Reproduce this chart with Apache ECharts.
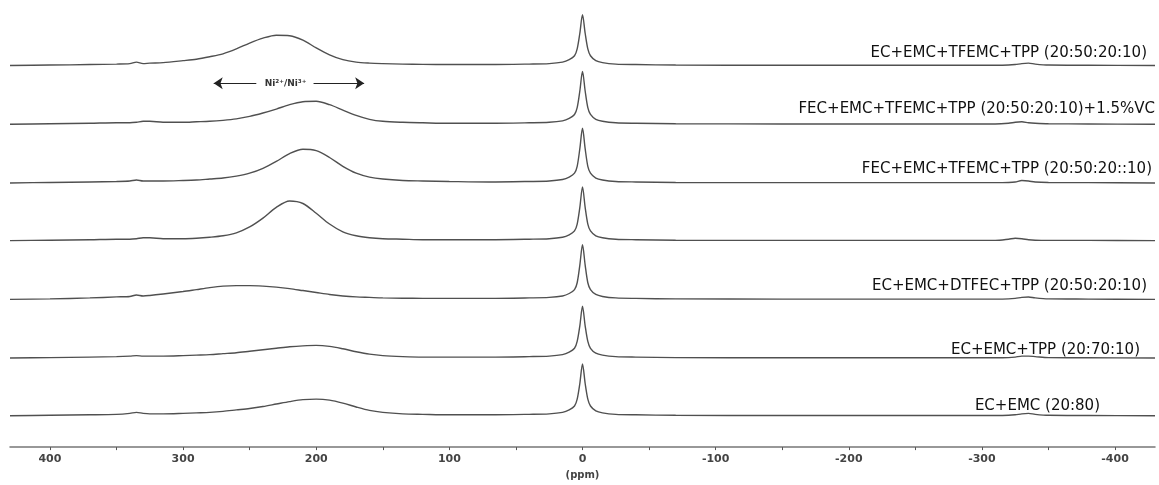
<!DOCTYPE html>
<html>
<head>
<meta charset="utf-8">
<script src="https://cdn.jsdelivr.net/npm/echarts@6/dist/echarts.min.js"></script>
<style>
  html, body { margin: 0; padding: 0; background: #fff; }
  #main { width: 1159px; height: 485px; }
</style>
</head>
<body>
<div id="main"></div>
<script>
// chemical shift grid (ppm), shared by all traces
const ppm = [430, 400, 370, 350, 340, 335, 330, 325, 315, 300,
  290, 280, 270, 260, 250, 240, 230, 220, 210, 200,
  190, 180, 170, 160, 150, 135, 120, 100, 70, 40,
  25, 15, 10, 6, 4, 2, 0, -2, -4, -6,
  -10, -15, -25, -40, -70, -150, -250, -310, -320, -325,
  -330, -335, -340, -350, -380, -430];

// sample names, top to bottom ('' = unlabeled trace)
const names = [
  'EC+EMC+TFEMC+TPP (20:50:20:10)',
  'FEC+EMC+TFEMC+TPP (20:50:20:10)+1.5%VC',
  'FEC+EMC+TFEMC+TPP (20:50:20::10)',
  '',
  'EC+EMC+DTFEC+TPP (20:50:20:10)',
  'EC+EMC+TPP (20:70:10)',
  'EC+EMC (20:80)'
];

// vertical stacking offset of each trace
const offsets = [390, 330, 270, 211, 151, 91, 32];

// intensities, one array per trace
const trace1 = [0, 0.5, 1, 1.5, 2, 3.5, 2, 2.5, 3, 5,
  6.5, 9, 12, 17, 23, 28, 31, 30.5, 26, 18,
  11, 6, 3.5, 2.5, 2, 1.5, 1.2, 1, 1, 1.5,
  2, 3.5, 6, 10, 17, 33, 52, 33, 17, 10,
  5, 3, 1.5, 1, 0.5, 0.3, 0.3, 0.3, 0.5, 1,
  2, 2.5, 1.5, 0.5, 0.3, 0];
const trace2 = [0, 0.5, 1, 1.5, 1.5, 2, 3, 3, 2, 2,
  2.5, 3, 4, 5.5, 8, 11.5, 15.5, 20, 23, 23.5,
  20, 14.5, 9, 5, 3, 2, 1.5, 1, 1, 1.5,
  2, 3.5, 6, 10, 17, 34, 54, 34, 17, 10,
  5, 3, 1.5, 1, 0.5, 0.3, 0.3, 0.3, 1, 2,
  2.5, 1.5, 1, 0.5, 0.3, 0];
const trace3 = [0, 0.5, 1, 1.5, 2, 3, 2, 2, 2, 2.5,
  3, 4, 5, 7, 10, 15, 22, 30, 34.5, 33,
  26, 17, 10, 6, 4, 2.5, 2, 1.5, 1, 1.5,
  2, 3.5, 6, 10, 17, 35, 56, 35, 17, 10,
  5, 3, 1.5, 1, 0.5, 0.3, 0.3, 0.3, 0.5, 1,
  2.5, 2, 1, 0.5, 0.3, 0];
const trace4 = [0, 0.5, 1, 1.5, 1.5, 2, 3, 3, 2, 2,
  2.5, 3.5, 5, 8, 14, 23, 34, 40.5, 38, 28,
  17, 9, 5, 3, 2, 1.5, 1, 1, 1, 1.5,
  2, 3.5, 6, 10, 17, 34, 55, 34, 17, 10,
  5, 3, 1.5, 1, 0.5, 0.3, 0.3, 0.3, 1.5, 2.5,
  2, 1, 0.5, 0.3, 0.3, 0];
const trace5 = [0, 0.5, 1.5, 2.5, 3, 4.5, 3.5, 4, 5.5, 8,
  10, 12, 13.5, 14, 14, 13.5, 12.5, 11, 9, 7,
  5, 3.5, 2.5, 2, 1.5, 1.2, 1, 1, 1, 1.5,
  2, 3.5, 6, 10, 17, 35, 56, 35, 17, 10,
  5, 3, 1.5, 1, 0.5, 0.3, 0.3, 0.3, 0.5, 1,
  2, 2.5, 1.5, 0.5, 0.3, 0];
const trace6 = [0, 0.5, 1, 1.5, 2, 2.5, 2, 2, 2, 2.5,
  3, 3.5, 4.5, 5.5, 7, 8.5, 10, 11.5, 12.5, 13,
  12, 9.5, 6.5, 4, 2.5, 1.5, 1, 1, 1, 1.5,
  2, 3.5, 6, 10, 17, 33, 53, 33, 17, 10,
  5, 3, 1.5, 1, 0.5, 0.3, 0.3, 0.3, 0.5, 1,
  2, 2, 1.5, 0.5, 0.3, 0];
const trace7 = [0, 0.5, 1, 1.5, 2.5, 3.5, 2.5, 2, 2, 2.5,
  3, 3.5, 4.5, 6, 7.5, 9.5, 12, 14.5, 16.5, 17,
  16, 13, 9, 5.5, 3.5, 2, 1.5, 1, 1, 1.5,
  2, 3.5, 6, 10, 17, 33, 53, 33, 17, 10,
  5, 3, 1.5, 1, 0.5, 0.3, 0.3, 0.3, 0.5, 1,
  2, 2.5, 1.5, 0.5, 0.3, 0];
const traces = [trace1, trace2, trace3, trace4, trace5, trace6, trace7];

// axis ticks
const tickValues = [-400, -350, -300, -250, -200, -150, -100, -50, 0, 50, 100, 150, 200, 250, 300, 350, 400];
const labelValues = [-400, -300, -200, -100, 0, 100, 200, 300, 400];

// Ni annotation (ppm, stacked height)
const niText = 'Ni²⁺/Ni³⁺';
const niTextPos = [223, 372];
const niArrowLeft = [[245, 372], [277, 372]];
const niArrowRight = [[202, 372], [164, 372]];

// label placement tweaks (px) for each trace's end label
const labelOffsets = [[-8, -12], [0, -15], [-3, -14], [0, 0], [-8, -13], [-15, -8], [-55, -10]];

const chart = echarts.init(document.getElementById('main'));

const series = traces.map((t, i) => {
  const s = {
    name: names[i] || ('trace' + (i + 1)),
    type: 'line',
    data: ppm.map((x, j) => [x, offsets[i] + t[j]]),
    showSymbol: false,
    smooth: 0.3,
    lineStyle: { color: '#505050', width: 1.4 },
    silent: true,
    animation: false,
    endLabel: {
      show: !!names[i],
      formatter: names[i],
      align: 'right',
      verticalAlign: 'middle',
      distance: 0,
      offset: labelOffsets[i],
      fontFamily: 'DejaVu Sans',
      fontSize: 15,
      color: '#111'
    }
  };
  if (i === 0) {
    s.markLine = {
      silent: true,
      animation: false,
      symbol: ['none', 'arrow'],
      symbolSize: 9,
      label: { show: false },
      lineStyle: { color: '#222', width: 1, type: 'solid' },
      data: [
        [{ coord: niArrowLeft[0] }, { coord: niArrowLeft[1] }],
        [{ coord: niArrowRight[0] }, { coord: niArrowRight[1] }]
      ]
    };
    s.markPoint = {
      silent: true,
      animation: false,
      symbol: 'circle',
      symbolSize: 0,
      label: {
        show: true,
        position: 'inside',
        formatter: niText,
        fontFamily: 'DejaVu Sans',
        fontSize: 9,
        fontWeight: 'bold',
        color: '#333'
      },
      data: [{ coord: niTextPos }]
    };
  }
  return s;
});

const option = {
  backgroundColor: '#fff',
  animation: false,
  grid: { left: 10, right: 4, top: 0, bottom: 28 },
  xAxis: {
    type: 'value',
    min: -430,
    max: 430,
    inverse: true,
    name: '(ppm)',
    nameLocation: 'middle',
    nameGap: 17,
    nameTextStyle: { fontFamily: 'DejaVu Sans', fontSize: 10, fontWeight: 'bold', color: '#444' },
    axisLine: { lineStyle: { color: '#777', width: 1.5 } },
    axisTick: { show: true, customValues: tickValues, length: 3, lineStyle: { color: '#555' } },
    axisLabel: { customValues: labelValues, margin: 7, fontFamily: 'DejaVu Sans', fontSize: 11, fontWeight: 'bold', color: '#444' },
    splitLine: { show: false }
  },
  yAxis: {
    type: 'value',
    min: 0,
    max: 457,
    show: false
  },
  series: series
};

chart.setOption(option);
</script>
</body>
</html>
